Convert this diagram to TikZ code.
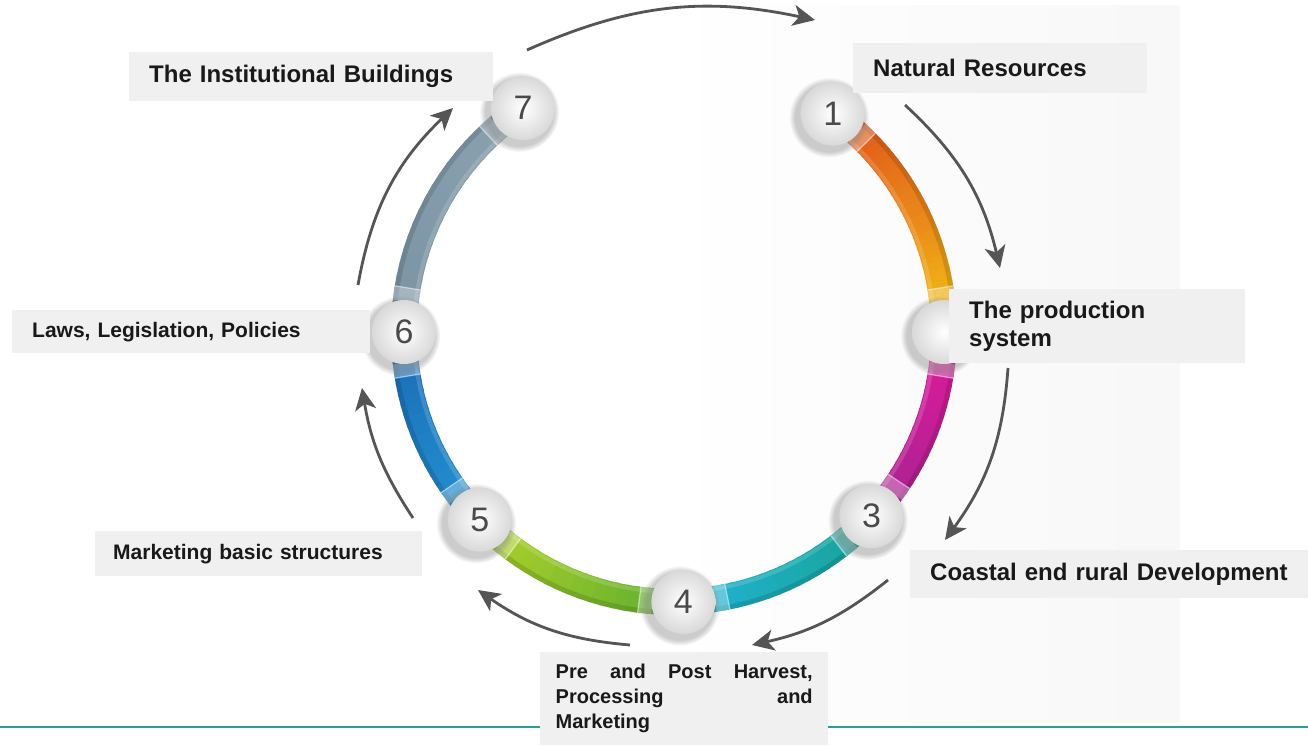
\documentclass[tikz,border=0pt]{standalone}
\usepackage{fontspec}
\newfontfamily\lab{Liberation Sans}
\usetikzlibrary{arrows.meta,shadows,fadings}
\definecolor{boxgray}{HTML}{F0F0F0}
\definecolor{arrgray}{HTML}{555555}
\definecolor{digitgray}{HTML}{4A4A4A}
\definecolor{tealline}{HTML}{2A9F93}
\definecolor{cOrA}{HTML}{DE4F1B}
\definecolor{cOrB}{HTML}{E9841A}
\definecolor{cYel}{HTML}{F2C313}
\definecolor{cMag}{HTML}{E01A9B}
\definecolor{cPur}{HTML}{A52391}
\definecolor{cTeal}{HTML}{17A395}
\definecolor{cCyan}{HTML}{21B3D4}
\definecolor{cGrn}{HTML}{5CAD2F}
\definecolor{cLime}{HTML}{B2D22B}
\definecolor{cBlu}{HTML}{2393D2}
\definecolor{cBluD}{HTML}{1B6BB5}
\definecolor{cGry}{HTML}{7A93A3}
\definecolor{cGryL}{HTML}{8AA2B0}
\pgfdeclarehorizontalshading{bgsh}{100bp}{color(0bp)=(white); color(50bp)=(white); color(80bp)=(gray!7); color(100bp)=(gray!22)}
\newcommand\ringseg[4]{%
  \foreach \k in {0,...,19}{%
    \pgfmathsetmacro\ta{#1+(#2-#1)*\k/20}%
    \pgfmathsetmacro\tb{#1+(#2-#1)*(\k+1.25)/20}%
    \pgfmathtruncatemacro\pc{100-100*\k/19}%
    \draw[ringline, draw=#3!\pc!#4] ([shift={(\ta:270)}]c) arc[start angle=\ta, end angle=\tb, radius=270];
  }%
  \draw[line width=5pt, black, opacity=.12] ([shift={(#1:280.5)}]c) arc[start angle=#1, end angle=#2, radius=280.5];
  \draw[line width=4pt, white, opacity=.15] ([shift={(#1:260)}]c) arc[start angle=#1, end angle=#2, radius=260];
}
\newcommand\ringcap[2]{%
  \pgfmathsetmacro\ca{#1+#2*6.6}%
  \pgfmathsetmacro\cb{#1+#2*9.4}%
  \draw[ringline, white, opacity=.3] ([shift={(\ca:270)}]c) arc[start angle=\ca, end angle=\cb, radius=270];
  \draw[line width=1.2pt, white, opacity=.5] ([shift={(\cb:257)}]c) -- ([shift={(\cb:283)}]c);
}
\tikzset{
  ringline/.style={line width=26pt},
  bubble/.style={circle, minimum size=64pt, inner sep=0pt, shading=radial, inner color=white, outer color=gray!30,
    circular drop shadow={shadow xshift=-3pt, shadow yshift=-3pt, shadow scale=1.25, opacity=.4},
    font=\lab\fontsize{34}{34}\selectfont, text=digitgray},
  lbox/.style={fill=boxgray, anchor=north west, inner xsep=20pt, inner ysep=0pt, align=left, text=black!90,
    font=\lab\bfseries\fontsize{24}{28}\selectfont},
  arr/.style={draw=arrgray, line width=2.8pt, -{Stealth[length=22pt,width=21pt,inset=6pt]}},
}
\begin{document}
\begin{tikzpicture}[x=1pt,y=1pt]
\useasboundingbox (0,0) rectangle (1308,-745);
\fill[white] (0,0) rectangle (1308,-745);
\shade[shading=bgsh] (155,-5) rectangle (1180,-722);
\draw[tealline, line width=2.6pt] (0,-727) -- (1308,-727);
\coordinate (c) at (674,-332);
% ring segments
\ringseg{54}{27}{cOrA}{cOrB}
\ringseg{27}{0}{cOrB}{cYel}
\ringseg{0}{-43}{cMag}{cPur}
\ringseg{-43}{-88}{cTeal}{cCyan}
\ringseg{-88}{-136}{cGrn}{cLime}
\ringseg{-136}{-180}{cBlu}{cBluD}
\ringseg{180}{124}{cGry}{cGryL}
\ringcap{54}{-1}\ringcap{0}{1}\ringcap{0}{-1}\ringcap{-43}{1}\ringcap{-43}{-1}
\ringcap{-88}{1}\ringcap{-88}{-1}\ringcap{-136}{1}\ringcap{-136}{-1}
\ringcap{180}{1}\ringcap{180}{-1}\ringcap{124}{1}
% bubbles
\node[bubble] (b1) at ([shift={(54:270)}]c) {1};
\node[bubble] (b2) at ([shift={(0:270)}]c) {};
\node[bubble] (b3) at ([shift={(-43:270)}]c) {3};
\node[bubble] (b4) at ([shift={(-88:270)}]c) {4};
\node[bubble] (b5) at ([shift={(-136:270)}]c) {5};
\node[bubble] (b6) at ([shift={(180:270)}]c) {6};
\node[bubble] (b7) at ([shift={(124:270)}]c) {7};
% arrows
\coordinate (s71) at (527,-50);  \coordinate (e71) at (815,-20);
\coordinate (s12) at (905,-105); \coordinate (e12) at (1000,-268);
\coordinate (s23) at (1008,-368);\coordinate (e23) at (945,-540);
\coordinate (s34) at (888,-580); \coordinate (e34) at (752,-645);
\coordinate (s45) at (630,-645); \coordinate (e45) at (478,-590);
\coordinate (s56) at (413,-518); \coordinate (e56) at (362,-388);
\coordinate (s67) at (358,-285); \coordinate (e67) at (453,-108);
\draw[arr] (s71) to[bend left=18] (e71);
\draw[arr] (s12) to[bend left=17] (e12);
\draw[arr] (s23) to[bend left=16] (e23);
\draw[arr] (s34) to[bend left=13] (e34);
\draw[arr] (s45) to[bend left=15] (e45);
\draw[arr] (s56) to[bend left=12] (e56);
\draw[arr] (s67) to[bend left=18] (e67);
% labels
\node[lbox, minimum width=364pt, minimum height=49pt, text width=324pt] (t7) at (129,-52) {The Institutional Buildings};
\node[lbox, minimum width=294pt, minimum height=50pt, text width=254pt] (t1) at (853,-43) {Natural Resources};
\node[lbox, minimum width=296pt, minimum height=74pt, text width=256pt] (t2) at (949,-289) {The production\\system};
\node[lbox, minimum width=358pt, minimum height=43pt, text width=318pt, font=\lab\bfseries\fontsize{21}{25}\selectfont] (t6) at (12,-310) {Laws, Legislation, Policies};
\node[lbox, minimum width=327pt, minimum height=45pt, inner xsep=18pt, text width=291pt, font=\lab\bfseries\fontsize{21}{25}\selectfont] (t5) at (95,-531) {Marketing basic structures};
\node[lbox, minimum width=398pt, minimum height=48pt, text width=358pt] (t3) at (910,-550) {Coastal end rural Development};
\node[lbox, minimum width=288pt, minimum height=93pt, inner xsep=15.5pt, text width=257pt, align=justify, font=\lab\bfseries\fontsize{20}{25}\selectfont] (t4) at (540,-652) {Pre and Post Harvest,\linebreak Processing and\linebreak Marketing};
\end{tikzpicture}
\end{document}
